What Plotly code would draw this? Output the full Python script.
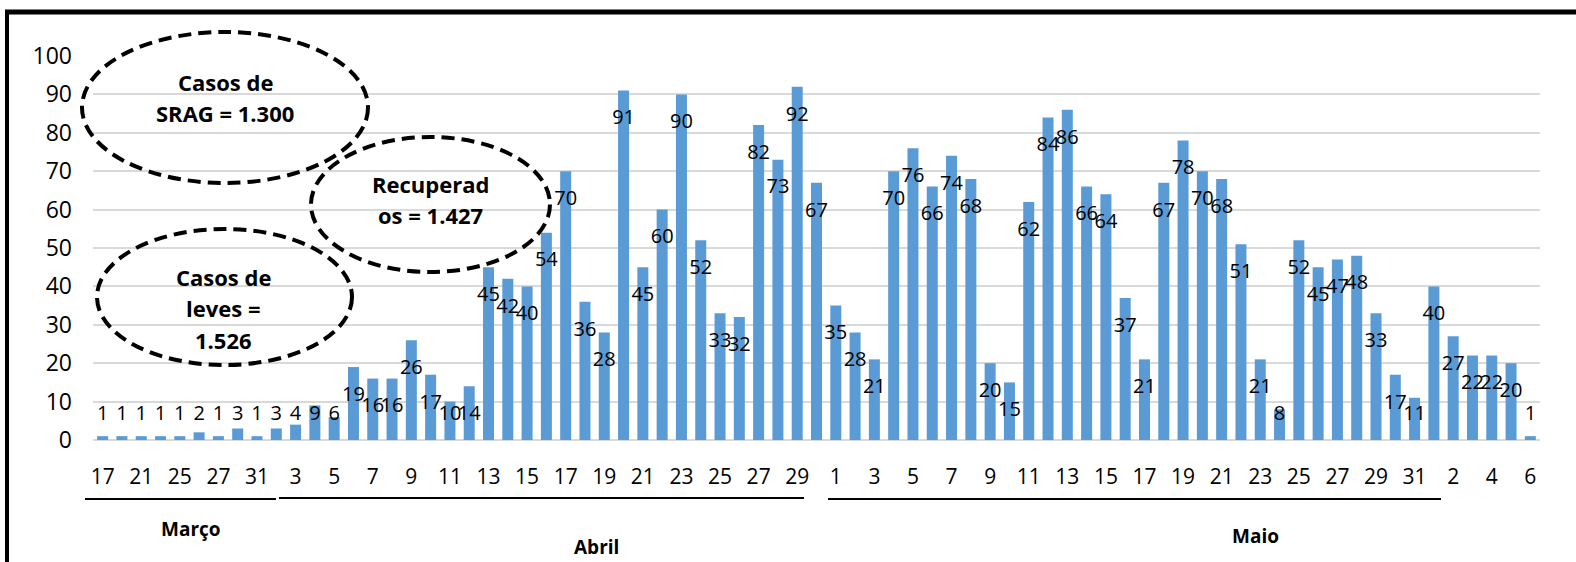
import plotly.graph_objects as go

# ---------------- data ----------------
march_days = [17, 19, 21, 23, 25, 26, 27, 30, 31]
march_vals = [1, 1, 1, 1, 1, 2, 1, 3, 1]

april_days = [1] + list(range(3, 31))
april_vals = [3, 4, 9, 6, 19, 16, 16, 26, 17, 10, 14, 45, 42, 40, 54, 70, 36, 28,
              91, 45, 60, 90, 52, 33, 32, 82, 73, 92, 67]

may_days = list(range(1, 32))
may_vals = [35, 28, 21, 70, 76, 66, 74, 68, 20, 15, 62, 84, 86, 66, 64, 37, 21, 67,
            78, 70, 68, 51, 21, 8, 52, 45, 47, 48, 33, 17, 11]

june_days = list(range(1, 7))
june_vals = [40, 27, 22, 22, 20, 1]

months = ["Março", "Abril", "Maio"]
box_texts = [["Casos de", "SRAG = 1.300"], ["Recuperad", "os = 1.427"],
             ["Casos de", "leves =", "1.526"]]

# ---------------- build ----------------
cats, days, vals = [], [], []
for m, dl, vl in [("03", march_days, march_vals), ("04", april_days, april_vals),
                  ("05", may_days, may_vals), ("06", june_days, june_vals)]:
    for d, v in zip(dl, vl):
        cats.append(f"{d:02d}/{m}")
        days.append(str(d))
        vals.append(v)

tickvals = cats[::2]
ticktext = days[::2]

W, H = 1576, 562
L, R, T, B = 93, 36, 56, 122
PW, PH = W - L - R, H - T - B


def px_x(p):
    return (p - L) / PW


def px_y(p):
    return (H - B - p) / PH


FONT = "Open Sans"
BAR = "#5B9BD5"

fig = go.Figure()
fig.add_trace(go.Bar(x=cats, y=vals, marker_color=BAR, marker_line_width=0,
                     hoverinfo="x+y"))
label_y = [max(v - 7.5, 6.5) for v in vals]
fig.add_trace(go.Scatter(x=cats, y=label_y, mode="text", text=[str(v) for v in vals],
                         textposition="middle center",
                         textfont=dict(family=FONT, size=20, color="#000000"),
                         hoverinfo="skip", showlegend=False))

shapes = []
# outer frame (top and left edges)
shapes.append(dict(type="line", xref="paper", yref="paper",
                   x0=px_x(7), x1=px_x(7), y0=px_y(12), y1=px_y(600),
                   line=dict(color="black", width=4)))
shapes.append(dict(type="line", xref="paper", yref="paper",
                   x0=px_x(5), x1=px_x(1600), y0=px_y(12), y1=px_y(12),
                   line=dict(color="black", width=5)))
# month brackets
for x0, x1, y in [(85, 276, 499), (279, 804, 498), (828, 1441, 499)]:
    shapes.append(dict(type="line", xref="paper", yref="paper",
                       x0=px_x(x0), x1=px_x(x1), y0=px_y(y), y1=px_y(y),
                       line=dict(color="black", width=2)))
# dashed ellipses
for x0, x1, y0, y1 in [(82, 368, 32, 183), (311, 550, 137, 272), (97, 352, 229, 365)]:
    shapes.append(dict(type="circle", xref="paper", yref="paper",
                       x0=px_x(x0), x1=px_x(x1), y0=px_y(y1), y1=px_y(y0),
                       line=dict(color="black", width=4, dash="13px,7px"),
                       fillcolor="rgba(0,0,0,0)"))

annotations = []
box_pos = [(225, [82, 113]), (430, [184, 215]), (223, [277, 308, 340])]
for (cx, ys), lines in zip(box_pos, box_texts):
    for yy, t in zip(ys, lines):
        annotations.append(dict(xref="paper", yref="paper", x=px_x(cx), y=px_y(yy),
                                text=f"<b>{t}</b>", showarrow=False,
                                xanchor="center", yanchor="middle",
                                font=dict(family=FONT, size=22, color="black")))
for (cx, cy), t in zip([(191, 529), (596, 547), (1255, 536)], months):
    annotations.append(dict(xref="paper", yref="paper", x=px_x(cx), y=px_y(cy),
                            text=f"<b>{t}</b>", showarrow=False,
                            xanchor="center", yanchor="middle",
                            font=dict(family=FONT, size=19, color="black")))

fig.update_layout(
    width=W, height=H,
    margin=dict(l=L, r=R, t=T, b=B, pad=0),
    paper_bgcolor="white", plot_bgcolor="white",
    showlegend=False, bargap=0.43,
    shapes=shapes, annotations=annotations,
    xaxis=dict(type="category", tickmode="array", tickvals=tickvals, ticktext=ticktext,
               range=[-0.5, len(cats) - 0.5], autorange=False,
               tickfont=dict(family=FONT, size=21, color="black"), showgrid=False,
               ticks="", showline=False, zeroline=False, ticklabelstandoff=22),
    yaxis=dict(range=[0, 100], dtick=10, showgrid=True, gridcolor="#D9D9D9", gridwidth=2,
               zeroline=True, zerolinecolor="#D9D9D9", zerolinewidth=2,
               tickfont=dict(family=FONT, size=23, color="black"), ticks="",
               showline=False, ticklabelstandoff=20),
)

fig.write_html("out.html", config={"displayModeBar": False},
               post_script="document.body.style.margin='0';document.body.style.padding='0';"
                           "document.documentElement.style.overflow='hidden';")
